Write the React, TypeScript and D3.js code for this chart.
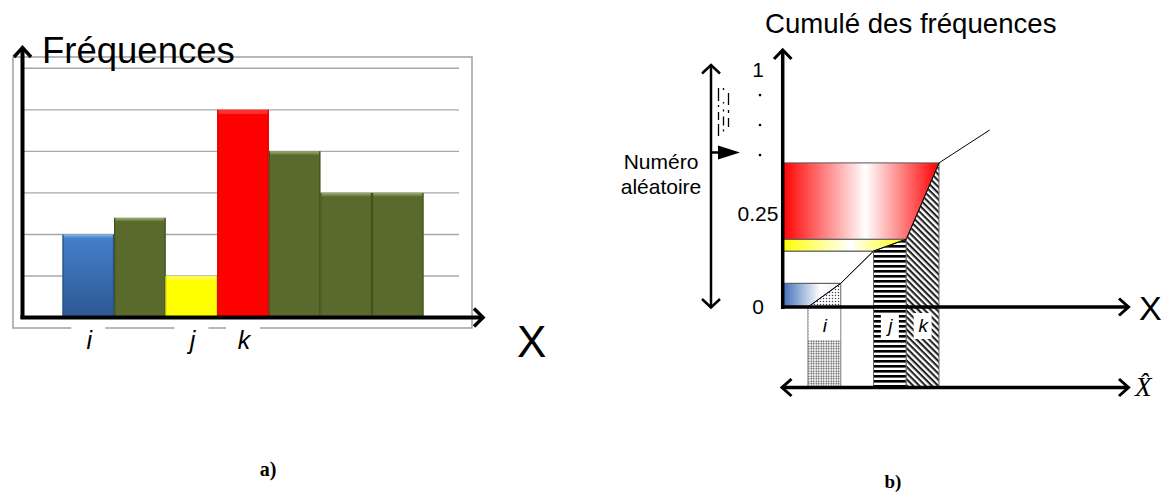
import React from "react";
import * as d3 from "d3";

// ---------- Panel a) data ----------
const categories = ["c1", "c2", "c3", "c4", "c5", "c6", "c7"];
const freqValues = [2, 2.4, 1, 5, 4, 3, 3];
const barColors = ["blue", "green", "yellow", "red", "green", "green", "green"];
const catLabels = ["i", "", "j", "k", "", "", ""];
const freqGridTicks = [1, 2, 3, 4, 5, 6];

// ---------- Panel b) data ----------
const cdfPositions = [0, 1, 2, 3, 4, 5.55];
const cdfValues = [0, 0.1, 0.236, 0.286, 0.608, 0.747];
const bandFills = ["blue", "none", "yellow", "red"];
const columnIndex = [0, 2, 3];
const columnLabels = ["i", "j", "k"];
const columnPatterns = ["dots", "hstripes", "dstripes"];
const cumTickValues = [0, 0.392, 1];
const cumTickLabels = ["0", "0.25", "1"];
const ellipsisValues = [0.641, 0.768, 0.894];

const SANS = "'Liberation Sans', Arial, sans-serif";
const SERIF = "'Liberation Serif', 'Times New Roman', serif";

const fillFor: Record<string, string> = {
  blue: "url(#barBlue)",
  green: "#5a6a2d",
  yellow: "#ffff00",
  red: "#ff0000",
};
const topFor: Record<string, string> = {
  blue: "url(#topBlue)",
  green: "url(#topGreen)",
  yellow: "#ffff40",
  red: "#ff3030",
};
const edgeFor: Record<string, string> = {
  blue: "#2a5088",
  green: "#45521f",
  yellow: "#e6e600",
  red: "#e00000",
};

export default function App() {
  // panel a scales
  const xA = d3.scaleBand<string>().domain(categories).range([62.5, 423.5]).padding(0);
  const yA = d3.scaleLinear().domain([0, 6]).range([317.5, 68.3]);
  const bw = xA.bandwidth();

  // panel b scales
  const xB = d3.scaleLinear().domain([0, 4]).range([808, 939]);
  const yB = d3.scaleLinear().domain([0, 1]).range([307, 70]);
  const axisX = 782.7;
  const hatY = 387.5;

  const bandPolys = bandFills.map((f, n) => {
    const lo = cdfValues[n];
    const hi = cdfValues[n + 1];
    const pts: [number, number][] = [
      [axisX, yB(lo)],
      [xB(cdfPositions[n]), yB(lo)],
      [xB(cdfPositions[n + 1]), yB(hi)],
      [axisX, yB(hi)],
    ];
    return { f, pts };
  });
  const bandFillUrl: Record<string, string> = {
    blue: "url(#gBlue)",
    yellow: "url(#gYellow)",
    red: "url(#gRed)",
    none: "#ffffff",
  };

  const line = d3.line<[number, number]>();
  const cdfPts: [number, number][] = cdfPositions.map((p, i) => [xB(p), yB(cdfValues[i])]);

  return (
    <svg
      width={1166}
      height={493}
      style={{ position: "absolute", left: 0, top: 0, background: "#fff" }}
    >
      <defs>
        <linearGradient id="barBlue" x1="0" y1="0" x2="0" y2="1">
          <stop offset="0" stopColor="#4580cc" />
          <stop offset="1" stopColor="#2d5893" />
        </linearGradient>
        <linearGradient id="topBlue" x1="0" y1="0" x2="0" y2="1">
          <stop offset="0" stopColor="#8fb6e6" />
          <stop offset="1" stopColor="#4580cc" />
        </linearGradient>
        <linearGradient id="topGreen" x1="0" y1="0" x2="0" y2="1">
          <stop offset="0" stopColor="#a0ad73" />
          <stop offset="1" stopColor="#5a6a2d" />
        </linearGradient>
        <linearGradient id="gRed" gradientUnits="userSpaceOnUse" x1={axisX} y1="0" x2={xB(4)} y2="0">
          <stop offset="0" stopColor="#ff0000" />
          <stop offset="0.53" stopColor="#ffffff" />
          <stop offset="1" stopColor="#ff0000" />
        </linearGradient>
        <linearGradient id="gYellow" gradientUnits="userSpaceOnUse" x1={axisX} y1="0" x2={xB(3)} y2="0">
          <stop offset="0" stopColor="#ffff00" />
          <stop offset="0.55" stopColor="#ffffff" />
          <stop offset="1" stopColor="#ffff00" />
        </linearGradient>
        <linearGradient id="gBlue" gradientUnits="userSpaceOnUse" x1={axisX} y1="0" x2={xB(1)} y2="0">
          <stop offset="0" stopColor="#3f6db5" />
          <stop offset="0.65" stopColor="#ffffff" />
          <stop offset="1" stopColor="#e4ebf6" />
        </linearGradient>
        <pattern id="dots" width="3" height="3" patternUnits="userSpaceOnUse">
          <rect width="3" height="3" fill="#fff" />
          <circle cx="1.5" cy="1.5" r="0.75" fill="#444" />
        </pattern>
        <pattern id="dotsDense" width="2.5" height="2.5" patternUnits="userSpaceOnUse">
          <rect width="2.5" height="2.5" fill="#fff" />
          <circle cx="1.25" cy="1.25" r="0.8" fill="#333" />
        </pattern>
        <pattern id="hstripes" width="6" height="5" patternUnits="userSpaceOnUse">
          <rect width="6" height="5" fill="#fff" />
          <rect width="6" height="2.6" fill="#000" />
        </pattern>
        <pattern id="dstripes" width="4.4" height="4.4" patternUnits="userSpaceOnUse" patternTransform="rotate(45)">
          <rect width="4.4" height="4.4" fill="#fff" />
          <rect width="4.4" height="2.1" fill="#222" />
        </pattern>
      </defs>

      {/* ================= Panel a ================= */}
      <rect x={13} y={57} width={459} height={271} fill="none" stroke="#9a9a9a" strokeWidth={1.4} />
      {freqGridTicks.map((t) => (
        <line key={t} x1={22} x2={459} y1={yA(t)} y2={yA(t)} stroke="#a8a8a8" strokeWidth={1.4} />
      ))}
      {freqValues.map((v, i) => {
        const c = barColors[i];
        const x = xA(categories[i])!;
        const y = yA(v);
        const h = yA(0) - y;
        return (
          <g key={i}>
            <rect x={x} y={y} width={bw} height={h} fill={fillFor[c]} />
            <rect x={x + 0.5} y={y} width={bw - 1} height={4} fill={topFor[c]} />
            <line x1={x + 0.6} x2={x + 0.6} y1={y} y2={y + h} stroke={edgeFor[c]} strokeWidth={1.2} />
            <line x1={x + bw - 0.6} x2={x + bw - 0.6} y1={y} y2={y + h} stroke={edgeFor[c]} strokeWidth={1.2} />
          </g>
        );
      })}
      {/* axes a */}
      <line x1={22.5} x2={22.5} y1={319} y2={48} stroke="#000" strokeWidth={4} />
      <polyline points="14,57 22.5,47.5 31,57" fill="none" stroke="#000" strokeWidth={3.5} />
      <line x1={20.5} x2={482} y1={317.5} y2={317.5} stroke="#000" strokeWidth={4} />
      <polyline points="474,308.5 483,317.5 474,326.5" fill="none" stroke="#000" strokeWidth={3.5} />
      {catLabels.map((l, i) =>
        l ? (
          <g key={i}>
            <rect x={xA(categories[i])! + bw / 2 - 17} y={324} width={34} height={30} fill="#fff" />
            <text
              x={xA(categories[i])! + bw / 2 + 1}
              y={349}
              textAnchor="middle"
              fontFamily={SANS}
              fontStyle="italic"
              fontSize={25}
            >
              {l}
            </text>
          </g>
        ) : null
      )}
      <text x={42} y={63} fontFamily={SANS} fontSize={36.5}>
        Fréquences
      </text>
      <text x={517} y={357} fontFamily={SANS} fontSize={44}>
        X
      </text>
      <text x={268} y={476} textAnchor="middle" fontFamily={SERIF} fontWeight="bold" fontSize={20}>
        a)
      </text>

      {/* ================= Panel b ================= */}
      <text x={765} y={33} fontFamily={SANS} fontSize={27.6}>
        Cumulé des fréquences
      </text>

      {/* columns */}
      {columnIndex.map((n, k) => {
        const pts: [number, number][] = [
          [xB(cdfPositions[n]), yB(cdfValues[n])],
          [xB(cdfPositions[n + 1]), yB(cdfValues[n + 1])],
          [xB(cdfPositions[n + 1]), hatY],
          [xB(cdfPositions[n]), hatY],
        ];
        return (
          <polygon
            key={k}
            points={pts.map((p) => p.join(",")).join(" ")}
            fill={`url(#${columnPatterns[k]})`}
            stroke="#666"
            strokeWidth={1}
          />
        );
      })}
      <rect
        x={xB(cdfPositions[0]) + 0.5}
        y={340}
        width={xB(cdfPositions[1]) - xB(cdfPositions[0]) - 1}
        height={hatY - 340}
        fill="url(#dotsDense)"
      />

      {/* bands */}
      {bandPolys.map((b, i) => (
        <polygon
          key={i}
          points={b.pts.map((p) => p.join(",")).join(" ")}
          fill={bandFillUrl[b.f]}
          stroke="#555"
          strokeWidth={1}
        />
      ))}

      {/* CDF line */}
      <path d={line(cdfPts) || ""} fill="none" stroke="#000" strokeWidth={1} />

      {/* column labels */}
      {columnIndex.map((n, k) => {
        const x0 = xB(cdfPositions[n]);
        const x1 = xB(cdfPositions[n + 1]);
        const cx = (x0 + x1) / 2;
        const full = k === 0;
        return (
          <g key={k}>
            <rect
              x={full ? x0 + 0.5 : cx - 9}
              y={full ? 309 : 313}
              width={full ? x1 - x0 - 1 : 18}
              height={full ? 31 : 26}
              fill="#fff"
            />
            <text x={cx + 0.5} y={331.5} textAnchor="middle" fontFamily={SANS} fontStyle="italic" fontSize={19}>
              {columnLabels[k]}
            </text>
          </g>
        );
      })}

      {/* axes b */}
      <line x1={axisX} x2={axisX} y1={309} y2={50.5} stroke="#000" strokeWidth={3.5} />
      <polyline points={`774,59 ${axisX},50 791.5,59`} fill="none" stroke="#000" strokeWidth={3} />
      <line x1={781} x2={1128} y1={307} y2={307} stroke="#000" strokeWidth={3.5} />
      <polyline points="1119,298.5 1128.5,307 1119,315.5" fill="none" stroke="#000" strokeWidth={3} />
      <line x1={782} x2={1128} y1={hatY} y2={hatY} stroke="#000" strokeWidth={3.5} />
      <polyline points="1119,379 1128.5,387.5 1119,396" fill="none" stroke="#000" strokeWidth={3} />
      <polyline points="791.5,379 782,387.5 791.5,396" fill="none" stroke="#000" strokeWidth={3} />

      {cumTickValues.map((v, i) => (
        <text key={i} x={758} y={yB(v) + 7} textAnchor="middle" fontFamily={SANS} fontSize={21}>
          {cumTickLabels[i]}
        </text>
      ))}
      {ellipsisValues.map((v, i) => (
        <circle key={i} cx={760} cy={yB(v)} r={1.3} fill="#000" />
      ))}

      <text x={1139} y={320} fontFamily={SANS} fontSize={34}>
        X
      </text>
      <text x={1135} y={396} fontFamily={SERIF} fontStyle="italic" fontSize={27}>
        X̂
      </text>

      {/* random number double arrow */}
      <line x1={711} x2={711} y1={66} y2={307.5} stroke="#000" strokeWidth={2.5} />
      <polyline points="702,73.5 711,65 720,73.5" fill="none" stroke="#000" strokeWidth={2.5} />
      <polyline points="702,299 711,307.5 720,299" fill="none" stroke="#000" strokeWidth={2.5} />
      <line x1={711} x2={720} y1={yB(0.652)} y2={yB(0.652)} stroke="#000" strokeWidth={2.5} />
      <polygon
        points={`718,${yB(0.652) - 7} 740,${yB(0.652)} 718,${yB(0.652) + 7}`}
        fill="#000"
      />
      <line x1={718.5} x2={718.5} y1={88} y2={136} stroke="#000" strokeWidth={1.3} strokeDasharray="13,4,2,5,8,4" />
      <line x1={723.5} x2={723.5} y1={88} y2={136} stroke="#000" strokeWidth={1.3} strokeDasharray="2,12,1.5,6,2,5,9,4" />
      <line x1={728.5} x2={728.5} y1={93} y2={136} stroke="#000" strokeWidth={1.3} strokeDasharray="12,5,3,5,9" />
      <text x={661} y={169} textAnchor="middle" fontFamily={SANS} fontSize={21}>
        Numéro
      </text>
      <text x={661} y={194} textAnchor="middle" fontFamily={SANS} fontSize={21}>
        aléatoire
      </text>

      <text x={893} y={488} textAnchor="middle" fontFamily={SERIF} fontWeight="bold" fontSize={19}>
        b)
      </text>
    </svg>
  );
}
